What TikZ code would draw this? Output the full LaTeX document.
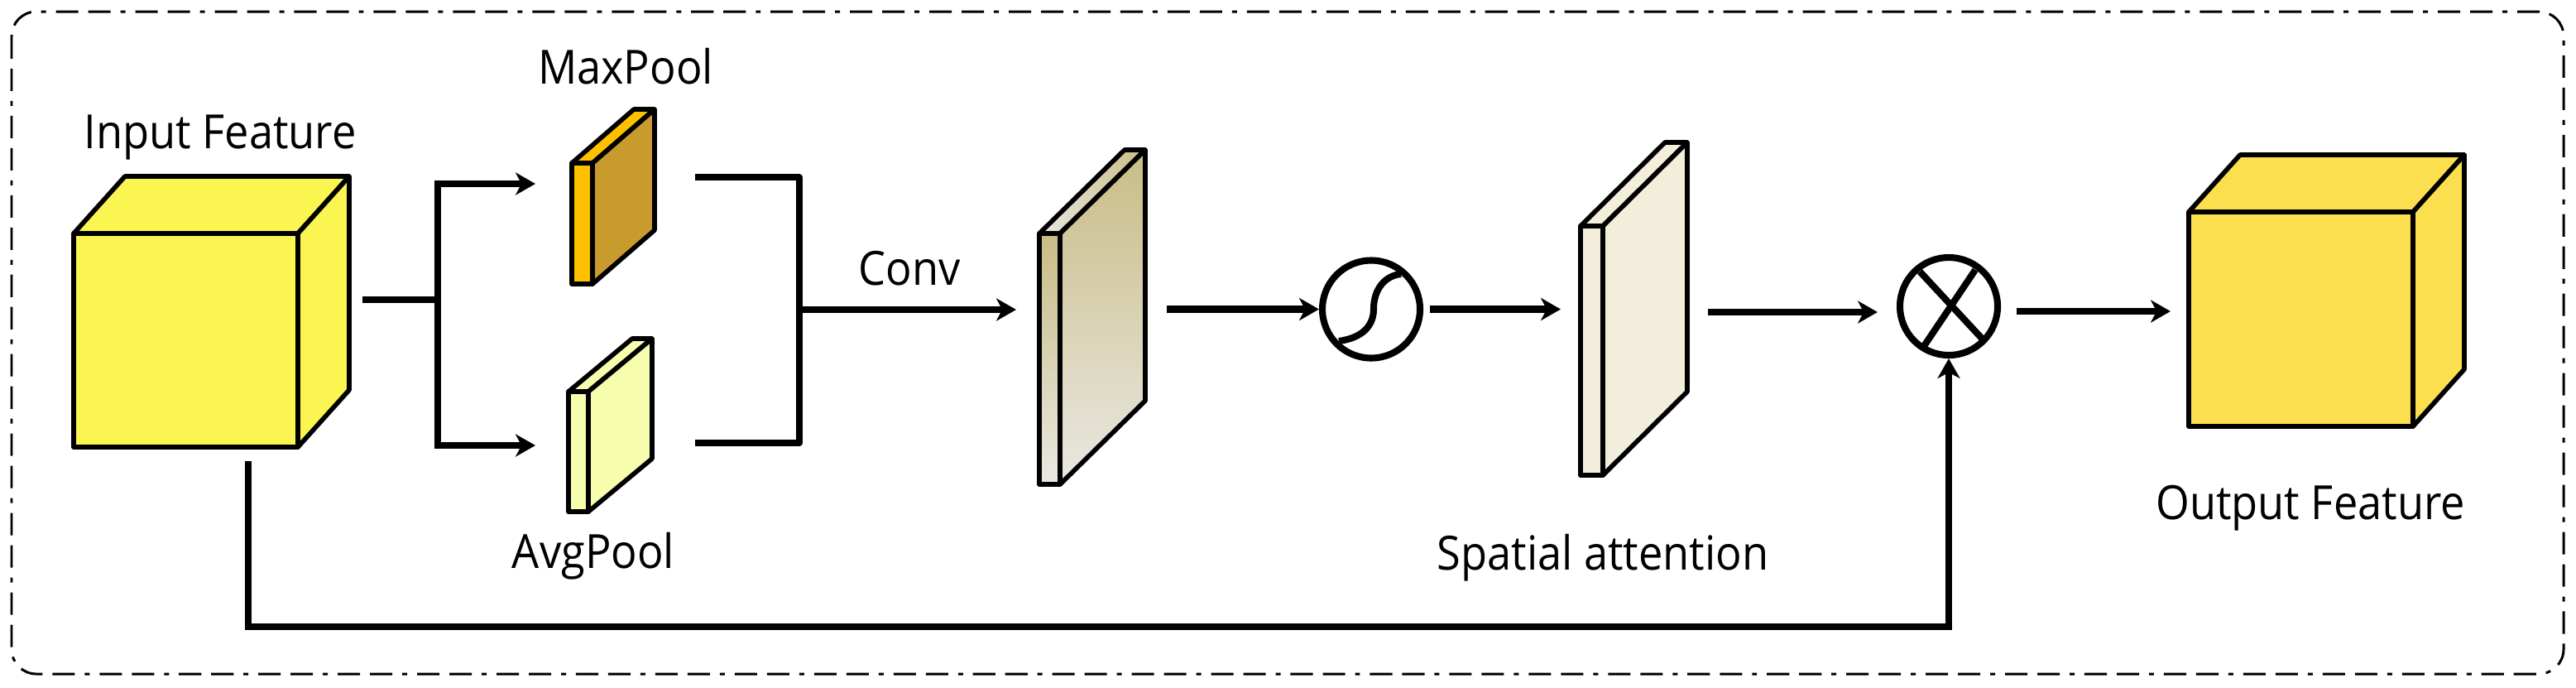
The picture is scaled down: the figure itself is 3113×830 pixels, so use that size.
\documentclass[tikz,border=0pt]{standalone}
\usepackage{fontspec}
\setmainfont[FakeStretch=0.92]{Open Sans}
\usepackage{tikz}
\usetikzlibrary{arrows.meta}
\usetikzlibrary{calc}
\definecolor{inputyellow}{HTML}{FAF550}
\definecolor{outputyellow}{HTML}{FBDF4E}
\definecolor{maxorange}{HTML}{FFC000}
\definecolor{maxside}{HTML}{C89B2E}
\definecolor{avgyellow}{HTML}{F6FEAE}
\definecolor{convdark}{HTML}{C9BC85}
\definecolor{convlight}{HTML}{E9E8E2}
\definecolor{spatialcream}{HTML}{F3EEDC}
\tikzset{
  face/.style = {draw, line width = 1.6pt, inner sep = 0pt, outer sep = 0pt, line join = round},
  caption/.style = {anchor = base, font = \fontsize{16.2}{20}\selectfont},
  link/.style = {line width = 2.3pt},
  arrowlink/.style = {link, -{Stealth[length = 6.8pt, width = 7.7pt, inset = 2pt]}},
  opcircle/.style = {draw, circle, line width = 2.3pt, minimum size = 118 * 0.1mm, inner sep = 0pt, outer sep = 1.15pt}
}
% the two faces behind a front node
\newcommand{\prismfaces}[5]{
  \path[face, draw, #4] (#1.north west) -- ++(#2,#3) -- ($(#1.north east) + (#2,#3)$) -- (#1.north east) -- cycle;
  \path[face, draw, #5] (#1.north east) -- ++(#2,#3) -- ($(#1.south east) + (#2,#3)$) -- (#1.south east) -- cycle;
}
\begin{document}
\begin{tikzpicture}[x = 0.1mm, y = -0.1mm]
  \useasboundingbox (0,0) rectangle (3113,830);
  \draw[line width = 0.85pt, rounded corners = 8.5pt, dash pattern = on 7.7pt off 3.4pt on 7.7pt off 3.4pt on 1.7pt off 3.4pt] (14,14) rectangle (3098,814);

  % blocks
  \node[face, fill = inputyellow, minimum width = 271 * 0.1mm, minimum height = 258 * 0.1mm] (input) at (224.5,411) {};
  \prismfaces{input}{62}{-69}{fill = inputyellow}{fill = inputyellow}
  \node[face, fill = maxorange, minimum width = 25 * 0.1mm, minimum height = 146 * 0.1mm] (maxpool) at (703.5,270) {};
  \prismfaces{maxpool}{75}{-65}{fill = maxorange}{fill = maxside}
  \node[face, fill = avgyellow, minimum width = 24 * 0.1mm, minimum height = 145 * 0.1mm] (avgpool) at (699,545.5) {};
  \prismfaces{avgpool}{77}{-64}{fill = avgyellow}{fill = avgyellow}
  \node[face, top color = convdark, bottom color = convlight, minimum width = 25 * 0.1mm, minimum height = 303 * 0.1mm] (conv) at (1268.5,433.5) {};
  \prismfaces{conv}{103}{-101}{left color = convlight, right color = convdark}{top color = convdark, bottom color = convlight}
  \node[face, fill = spatialcream, minimum width = 27 * 0.1mm, minimum height = 301 * 0.1mm] (spatial) at (1923.5,423.5) {};
  \prismfaces{spatial}{102}{-101}{fill = spatialcream}{fill = spatialcream}
  \node[face, fill = outputyellow, minimum width = 271 * 0.1mm, minimum height = 259 * 0.1mm] (output) at (2780.5,385.5) {};
  \prismfaces{output}{62}{-69}{fill = outputyellow}{fill = outputyellow}

  % operators
  \node[opcircle] (sigmoid) at (1657,373.5) {};
  \draw[link] (1618,412) .. controls (1647,408) and (1660,393) .. (1660,373) .. controls (1660,350) and (1673,333) .. (1693,331);
  \node[opcircle] (multiply) at (2355,370) {};
  \draw[link] (2320,328) -- (2398,412);
  \draw[link] (2387,326) -- (2323,421);

  % captions
  \node[caption] (inputlabel) at (266,179) {Input Feature};
  \node[caption] (maxlabel) at (756,101) {MaxPool};
  \node[caption] (avglabel) at (717,686) {AvgPool};
  \node[caption] (convlabel) at (1099,344) {Conv};
  \node[caption] (spatiallabel) at (1937,688) {Spatial attention};
  \node[caption] (outputlabel) at (2792,627) {Output Feature};

  % connector ends
  \coordinate (splitstart) at (438,362);
  \coordinate (splitmid) at (529,362);
  \coordinate (maxin) at (647,222);
  \coordinate (avgin) at (647,538);
  \coordinate (maxout) at (840,214);
  \coordinate (avgout) at (840,535);
  \coordinate (mergetop) at (966,214);
  \coordinate (mergebot) at (966,535);
  \coordinate (mergemid) at (966,374);
  \coordinate (convin) at (1228,374);
  \coordinate (convout) at (1410,373.5);
  \coordinate (sigmoidout) at (1728,373.5);
  \coordinate (spatialin) at (1886,373.5);
  \coordinate (spatialout) at (2064,377);
  \coordinate (mulin) at (2269,377);
  \coordinate (mulout) at (2437,376);
  \coordinate (outputin) at (2623,376);
  \coordinate (skipstart) at (300,557);
  \coordinate (skipcorner) at (2355,757);

  % connectors
  \draw[link] (splitstart) -- (splitmid);
  \draw[arrowlink] (splitmid) |- (maxin);
  \draw[arrowlink] (splitmid) |- (avgin);
  \draw[link, line join = round] (maxout) -- (mergetop) -- (mergebot) -- (avgout);
  \draw[arrowlink] (mergemid) -- (convin);
  \draw[arrowlink] (convout) -- (sigmoid);
  \draw[arrowlink] (sigmoidout) -- (spatialin);
  \draw[arrowlink] (spatialout) -- (mulin);
  \draw[arrowlink] (mulout) -- (outputin);
  \draw[arrowlink] (skipstart) |- (skipcorner) -- (multiply);
\end{tikzpicture}
\end{document}
